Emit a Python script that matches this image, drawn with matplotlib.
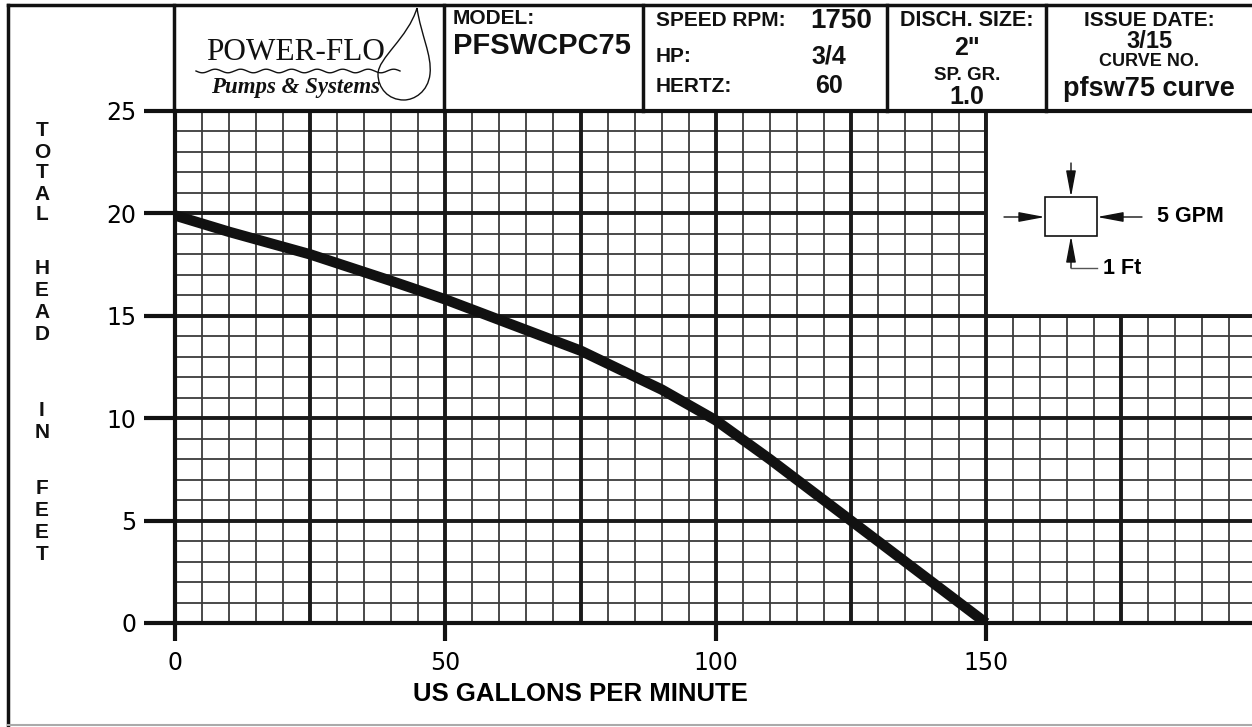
import numpy as np
import matplotlib
matplotlib.use("Agg")
import matplotlib.pyplot as plt
from matplotlib.patches import Rectangle, PathPatch
from matplotlib.path import Path

# pump curve
flow_gpm = [0, 10, 25, 40, 50, 60, 75, 90, 100, 110, 125, 137.5, 150]
head_ft = [19.9, 19.1, 18.0, 16.7, 15.8, 14.8, 13.3, 11.4, 9.9, 8.0, 5.0, 2.5, 0.0]

x_ticks = [0, 50, 100, 150]
y_ticks = [0, 5, 10, 15, 20, 25]

model = "PFSWCPC75"
speed_rpm = "1750"
hp = "3/4"
hertz = "60"
disch_size = '2"'
sp_gr = "1.0"
issue_date = "3/15"
curve_no = "pfsw75 curve"

W, H = 1252, 727
X0, Y0, Y25 = 175, 623, 111
PX_PER_GPM = 5.407

fig = plt.figure(figsize=(W / 100, H / 100), dpi=100)
ax = fig.add_axes([X0 / W, 1 - Y0 / H, (W - X0) / W, (Y0 - Y25) / H])
xmax = (W - X0) / PX_PER_GPM
ax.set_xlim(0, xmax)
ax.set_ylim(0, 25)

minor_c, major_c = "#3c3c3c", "#1a1a1a"
# graph paper
ax.vlines(np.arange(5, 200, 5), 0, 25, color=minor_c, lw=1.3, zorder=1)
ax.hlines(np.arange(1, 25, 1), 0, xmax, color=minor_c, lw=1.3, zorder=1)
ax.vlines(np.arange(25, 200, 25), 0, 25, color=major_c, lw=2.8, zorder=1.1)
ax.hlines(np.arange(5, 25, 5), 0, xmax, color=major_c, lw=2.8, zorder=1.1)
# blank corner for the scale key
ax.add_patch(Rectangle((150, 15), 60, 10, facecolor="white", edgecolor="none", zorder=1.5))
ax.plot([150, 150], [15, 25], color=major_c, lw=2.8, zorder=1.6)
ax.plot([150, xmax], [15, 15], color=major_c, lw=2.8, zorder=1.6)

ax.plot(flow_gpm, head_ft, color="#111111", lw=7.5, solid_capstyle="butt", zorder=3)

for s in ["left", "bottom", "top"]:
    ax.spines[s].set_linewidth(3)
    ax.spines[s].set_color("#111111")
ax.spines["right"].set_visible(False)

ax.set_xticks(x_ticks)
ax.set_yticks(y_ticks)
ax.tick_params(axis="x", length=13, width=3, pad=7, labelsize=17, color="#111111")
ax.tick_params(axis="y", length=22, width=3, pad=6, labelsize=17, color="#111111")
ax.set_xlabel("US GALLONS PER MINUTE", fontsize=18.5, fontweight="bold",
              family="Liberation Sans")
ax.xaxis.set_label_coords(75 / xmax, -(694 - Y0) / (Y0 - Y25))
ax.xaxis.label.set_va("center")

# scale key in the blank corner
def px(x, y):
    return ((x - X0) / PX_PER_GPM, (Y0 - y) / ((Y0 - Y25) / 25))

ax.add_patch(Rectangle(px(1045, 236), (1097 - 1045) / PX_PER_GPM,
                       (236 - 197) / ((Y0 - Y25) / 25), facecolor="white",
                       edgecolor="#111111", lw=1.2, zorder=4))
arrow = dict(arrowstyle="-|>,head_length=1.6,head_width=0.3", color="#111111",
             lw=1.0, shrinkA=0, shrinkB=0)
for a, b in [((1004, 217), (1045, 217)), ((1142, 217), (1097, 217)),
             ((1071, 163), (1071, 197)), ((1071, 268), (1071, 236))]:
    ax.annotate("", xy=px(*b), xytext=px(*a), arrowprops=arrow, zorder=4)
hook = [px(1071, 268), px(1097, 268)]
ax.plot([hook[0][0], hook[1][0]], [hook[0][1], hook[1][1]], color="#555555", lw=1.0, zorder=4)
ax.text(*px(1157, 217), "5 GPM", fontsize=15.5, fontweight="bold", family="Liberation Sans",
        va="center", ha="left", zorder=4)
ax.text(*px(1103, 268), "1 Ft", fontsize=15.5, fontweight="bold", family="Liberation Sans",
        va="center", ha="left", zorder=4)

# overlay in pixel coordinates for frame and title block
ov = fig.add_axes([0, 0, 1, 1], zorder=5)
ov.set_xlim(0, W)
ov.set_ylim(H, 0)
ov.axis("off")
ov.patch.set_alpha(0)

k = "#111111"
ov.plot([8, 8], [5, 725], color=k, lw=2.5)
ov.plot([8, W], [5, 5], color=k, lw=2.5)
ov.plot([8, W], [725, 725], color="#aaaaaa", lw=1.5)
for xd in [174, 444, 643, 887, 1046]:
    ov.plot([xd, xd], [5, 111], color=k, lw=2.5)

# logo
ov.text(296, 52, "POWER-FLO", family="Liberation Serif", fontsize=22.5, ha="center",
        va="center", color=k)
wx = np.linspace(196, 400, 300)
ov.plot(wx, 71 + 1.8 * np.sin((wx - 196) / 204 * 2 * np.pi * 8), color=k, lw=1.0)
ov.text(296, 88, "Pumps & Systems", family="Liberation Serif", style="italic",
        fontweight="bold", fontsize=16.5, ha="center", va="center", color=k)
drop = Path([(417, 8), (421, 35), (432, 55), (430, 74),
             (428, 92), (414, 100), (404, 100),
             (388, 100), (378, 88), (378, 74),
             (378, 58), (408, 38), (417, 8)],
            [Path.MOVETO] + [Path.CURVE4] * 12)
ov.add_patch(PathPatch(drop, facecolor="none", edgecolor=k, lw=1.0))

hf = dict(family="Liberation Sans", fontweight="bold", color=k, va="center")
ov.text(453, 19, "MODEL:", fontsize=15, ha="left", **hf)
ov.text(453, 46, model, fontsize=21, ha="left", **hf)
ov.text(656, 21, "SPEED RPM:", fontsize=15, ha="left", **hf)
ov.text(810, 21, speed_rpm, fontsize=20, ha="left", **hf)
ov.text(656, 56, "HP:", fontsize=15, ha="left", **hf)
ov.text(829, 57, hp, fontsize=18, ha="center", **hf)
ov.text(656, 86, "HERTZ:", fontsize=15, ha="left", **hf)
ov.text(829, 86, hertz, fontsize=18, ha="center", **hf)
ov.text(967, 21, "DISCH. SIZE:", fontsize=15.5, ha="center", **hf)
ov.text(967, 48, disch_size, fontsize=18, ha="center", **hf)
ov.text(967, 75, "SP. GR.", fontsize=13.5, ha="center", **hf)
ov.text(967, 97, sp_gr, fontsize=18, ha="center", **hf)
ov.text(1149, 20, "ISSUE DATE:", fontsize=15, ha="center", **hf)
ov.text(1149, 41, issue_date, fontsize=17, ha="center", **hf)
ov.text(1149, 62, "CURVE NO.", fontsize=13, ha="center", **hf)
ov.text(1149, 89, curve_no, fontsize=19.5, ha="center", **hf)

# vertical stacked axis title
letters = [("T", 130), ("O", 152), ("T", 173), ("A", 194), ("L", 215),
           ("H", 268), ("E", 290), ("A", 312), ("D", 334),
           ("I", 410), ("N", 432),
           ("F", 488), ("E", 510), ("E", 532), ("T", 554)]
lf = dict(family="Liberation Sans", fontweight="bold", color=k)
for ch, yy in letters:
    ov.text(42, yy, ch, fontsize=15, ha="center", va="center", **lf)

fig.savefig("out.png", dpi=100)
